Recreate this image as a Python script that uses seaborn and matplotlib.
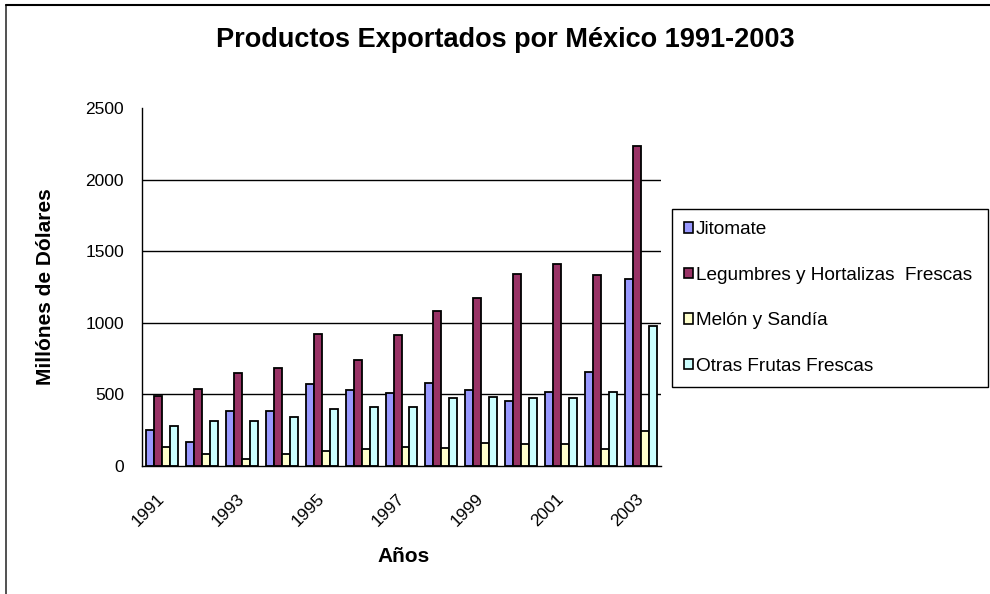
import pandas as pd
import numpy as np
import matplotlib
matplotlib.use("Agg")
import matplotlib.pyplot as plt
from matplotlib.lines import Line2D
import seaborn as sns

# data (millones de dolares)
years = [1991, 1992, 1993, 1994, 1995, 1996, 1997, 1998, 1999, 2000, 2001, 2002, 2003]
productos = ["Jitomate", "Legumbres y Hortalizas  Frescas", "Melón y Sandía", "Otras Frutas Frescas"]
jitomate = [251, 165, 386, 386, 572, 530, 511, 581, 530, 455, 516, 653, 1306]
legumbres = [488, 539, 646, 683, 920, 737, 913, 1083, 1171, 1343, 1413, 1334, 2237]
melon = [135, 81, 51, 81, 107, 116, 135, 125, 163, 151, 151, 116, 242]
otras = [279, 316, 316, 344, 395, 414, 414, 476, 483, 476, 476, 516, 976]
colores = ["#9999FF", "#993366", "#FFFFCC", "#CCFFFF"]

rows = []
for prod, vals in zip(productos, [jitomate, legumbres, melon, otras]):
    for y, v in zip(years, vals):
        rows.append({"Año": str(y), "Producto": prod, "Valor": v})
df = pd.DataFrame(rows)

sns.set_style("white")
plt.rcParams["font.family"] = ["Liberation Sans", "DejaVu Sans"]
plt.rcParams["text.color"] = "black"
plt.rcParams["xtick.color"] = "black"
plt.rcParams["ytick.color"] = "black"

fig = plt.figure(figsize=(9.9, 5.94), dpi=100)
ax = fig.add_axes([142/990, 1-466/594, (661-142)/990, (466-108)/594])

sns.barplot(data=df, x="Año", y="Valor", hue="Producto", palette=colores,
            saturation=1, edgecolor="black", linewidth=1.3, width=0.8,
            errorbar=None, ax=ax)

ax.set_ylim(0, 2500)
ax.set_xlim(-0.5, len(years) - 0.5)
ax.set_yticks(np.arange(0, 2501, 500))
ax.tick_params(axis="y", direction="out", length=5, width=1, color="black",
               labelsize=12.5, labelcolor="black", pad=8)
# gridlines
for g in [500, 1000, 1500, 2000]:
    ax.axhline(g, color="black", lw=1, zorder=0)

# x ticks: marks on category borders, labels every other year
ax.set_xticks(np.arange(0, len(years), 2))
ax.set_xticklabels([str(y) for y in years[::2]])
ax.set_xticks(np.arange(-0.5, len(years), 1), minor=True)
ax.tick_params(axis="x", which="major", length=0, labelsize=12.5,
               labelcolor="black", pad=22)
ax.tick_params(axis="x", which="minor", direction="out", length=5, width=1, color="black")
for lbl in ax.get_xticklabels():
    lbl.set_rotation(45)
    lbl.set_ha("right")
    lbl.set_va("center")
    lbl.set_rotation_mode("anchor")

for s in ["top", "right"]:
    ax.spines[s].set_visible(False)
for s in ["left", "bottom"]:
    ax.spines[s].set_color("black")
    ax.spines[s].set_linewidth(1)
ax.set_xlabel("")
ax.set_ylabel("")

handles, labels = ax.get_legend_handles_labels()
ax.get_legend().remove()
leg = ax.legend(handles, labels, loc="center left",
                bbox_to_anchor=(672/990, 1-389/594, 316/990, 182/594),
                bbox_transform=fig.transFigure, mode="expand",
                fontsize=13.7, frameon=True, fancybox=False, framealpha=1,
                edgecolor="black", handlelength=0.45, handleheight=0.45,
                handletextpad=0.15, labelspacing=1.5, borderpad=0.65,
                borderaxespad=0)
leg.get_frame().set_linewidth(1)
for h in leg.legend_handles:
    h.set_edgecolor("black")
    h.set_linewidth(1.2)

fig.text(505/990, 1-40/594, "Productos Exportados por México 1991-2003",
         ha="center", va="center", fontsize=19.5, fontweight="bold")
fig.text(46/990, 1-287/594, "Millónes de Dólares", rotation=90,
         ha="center", va="center", fontsize=15, fontweight="bold")
fig.text(404/990, 1-557/594, "Años", ha="center", va="center",
         fontsize=15, fontweight="bold")

# chart area border (left and top only visible)
fig.add_artist(Line2D([6/990, 6/990], [0, 1-5/594], color="#333333", lw=1.2))
fig.add_artist(Line2D([6/990, 1], [1-5/594, 1-5/594], color="black", lw=1.5))

fig.savefig("out.png", dpi=100)
